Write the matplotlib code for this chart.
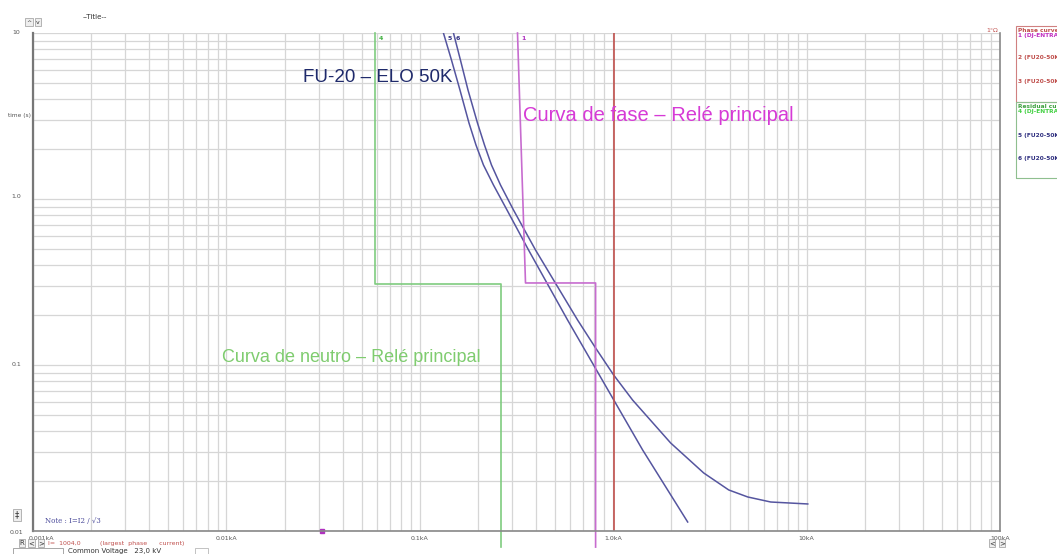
import matplotlib.pyplot as plt
from matplotlib.patches import Rectangle

# --- data (current in kA, time in s) ---
fuse_min_i = [0.1325, 0.1458, 0.1613, 0.1796, 0.1952, 0.2134, 0.2404, 0.2824,
              0.3649, 0.5808, 1.420, 2.427]
fuse_min_t = [10.0, 6.875, 4.536, 2.870, 2.115, 1.602, 1.214, 0.8584,
              0.4929, 0.1867, 0.03076, 0.01133]

fuse_max_i = [0.1493, 0.1622, 0.1775, 0.1987, 0.2160, 0.2348, 0.2614, 0.3051,
              0.3966, 0.6543, 0.8109, 1.005, 1.260, 1.982, 2.938, 3.957,
              4.963, 6.526, 10.14]
fuse_max_t = [10.0, 6.875, 4.536, 2.870, 2.115, 1.602, 1.214, 0.8584,
              0.4929, 0.1867, 0.1266, 0.0871, 0.0615, 0.0339, 0.02236, 0.01767,
              0.01603, 0.01495, 0.01455]

phase_i = [0.320, 0.352, 0.811, 0.811]
phase_t = [10.0, 0.312, 0.312, 0.008]

neutral_i = [0.0589, 0.0589, 0.264, 0.264]
neutral_t = [10.0, 0.307, 0.307, 0.008]

largest_current = 1.004  # kA
marker_i = 0.0313

x_ticks = [0.001, 0.01, 0.1, 1.0, 10, 100]
x_tick_labels = ['0.001kA', '0.01kA', '0.1kA', '1.0kA', '10kA', '100kA']
y_tick_px = [33, 197, 364, 532]
y_tick_labels = ['10', '1.0', '0.1', '0.01']

blue = '#55559f'
green = '#7fcc7f'
magenta = '#c76ccf'
red = '#c0504d'

W, H = 1057, 554


def fx(px):
    return px / W


def fy(py):
    return 1 - py / H


fig = plt.figure(figsize=(10.57, 5.54), dpi=100)
ax = fig.add_axes([33 / W, 1 - 531 / H, 967 / W, 498 / H])
ax.set_xscale('log')
ax.set_yscale('log')
ax.set_xlim(0.001, 100)
ax.set_ylim(0.01, 10)

ax.grid(True, which='both', color='#d6d6d6', lw=0.9)
ax.set_axisbelow(True)
ax.tick_params(which='both', length=0, labelbottom=False, labelleft=False)
ax.spines['top'].set_visible(False)
ax.spines['left'].set_color('#777777')
ax.spines['left'].set_linewidth(1.6)
ax.spines['bottom'].set_color('#888888')
ax.spines['bottom'].set_linewidth(1.2)
ax.spines['right'].set_color('#888888')
ax.spines['right'].set_linewidth(1.2)

# curves
ax.plot(fuse_min_i, fuse_min_t, color=blue, lw=1.1)
ax.plot(fuse_max_i, fuse_max_t, color=blue, lw=1.1)
ax.plot(phase_i, phase_t, color=magenta, lw=1.2, clip_on=False)
ax.plot(neutral_i, neutral_t, color=green, lw=1.2, clip_on=False)
ax.plot([largest_current, largest_current], [0.01, 10], color=red, lw=1.2)
ax.plot([marker_i], [0.01], marker='s', ms=3, color='#b030c0', clip_on=False)

# tick labels drawn as small texts like the original tool
for v, lab in zip(x_ticks, x_tick_labels):
    xx = v * 1.1 if v == 0.001 else v
    ax.text(xx, 0.0093, lab, fontsize=4.5, color='#555555', ha='center', va='top')
for py, lab in zip(y_tick_px, y_tick_labels):
    fig.text(fx(16), fy(py), lab, fontsize=4.5, color='#555555', ha='center', va='center')

# curve numbers at the top
ax.text(0.0612, 9.6, '4', fontsize=4.5, color='#40b040', fontweight='bold', va='top')
ax.text(0.139, 9.6, '5', fontsize=4.5, color='#303080', fontweight='bold', va='top')
ax.text(0.153, 9.6, '6', fontsize=4.5, color='#303080', fontweight='bold', va='top')
ax.text(0.335, 9.6, '1', fontsize=4.5, color='#b030c0', fontweight='bold', va='top')

# annotations
ax.text(0.0250, 5.36, 'FU-20 – ELO 50K', fontsize=13.5, color='#1f2a6b',
        family='Liberation Sans', va='center')
ax.text(0.343, 3.2, 'Curva de fase – Relé principal', fontsize=14.5, color='#d63ad6',
        family='Liberation Sans', va='center')
ax.text(0.0095, 0.1117, 'Curva de neutro – Relé principal', fontsize=13, color='#7fcc6f',
        family='Liberation Sans', va='center')
ax.text(0.00115, 0.0108, 'Note : I=I2 / √3', fontsize=5, color='#4a4a9a',
        family='DejaVu Serif', va='bottom')

# figure-level extras
fig.text(fx(95), fy(17), '--Title--', fontsize=5, color='#333333', ha='center', va='center')
fig.text(fx(19), fy(116), 'time (s)', fontsize=4.2, color='#555555', ha='center', va='center')
fig.text(fx(992), fy(30), '1°Ω', fontsize=4.5, color='#c0504d', ha='center', va='center')
for xx, s in [(29, '^'), (38, 'v')]:
    fig.text(fx(xx), fy(22), s, fontsize=4.5, color='#333333', ha='center', va='center',
             bbox=dict(boxstyle='square,pad=0.2', fc='#eeeeee', ec='#999999', lw=0.5))
fig.text(fx(17), fy(515), '‡', fontsize=6, color='#333333', ha='center', va='center',
         bbox=dict(boxstyle='square,pad=0.2', fc='#eeeeee', ec='#999999', lw=0.5))
for xx, s in [(22, 'R'), (31.5, '<'), (41, '>')]:
    fig.text(fx(xx), fy(543), s, fontsize=5, color='#333333', ha='center', va='center',
             bbox=dict(boxstyle='square,pad=0.08', fc='#eeeeee', ec='#999999', lw=0.5))
fig.text(fx(48), fy(543), 'I=  1004,0', fontsize=4.5, color='#c0504d', va='center')
fig.text(fx(100), fy(543), '(largest  phase      current)', fontsize=4.5, color='#c0504d',
         va='center')
fig.text(fx(68), fy(551), 'Common Voltage   23,0 kV', fontsize=5, color='#333333', va='center')
fig.add_artist(Rectangle((fx(13), fy(556)), 50 / W, 8 / H, transform=fig.transFigure,
                         fill=False, ec='#999999', lw=0.6))
fig.add_artist(Rectangle((fx(195), fy(554)), 13 / W, 6 / H, transform=fig.transFigure,
                         fill=False, ec='#aaaaaa', lw=0.5))
for xx, s in [(992, '<'), (1002, '>')]:
    fig.text(fx(xx), fy(543), s, fontsize=5, color='#333333', ha='center', va='center',
             bbox=dict(boxstyle='square,pad=0.08', fc='#eeeeee', ec='#999999', lw=0.5))

# legend boxes (cut off by the figure edge, like the screenshot)
fig.add_artist(Rectangle((fx(1016), fy(102)), 60 / W, 76 / H, transform=fig.transFigure,
                         fill=False, ec='#d08080', lw=0.8))
fig.add_artist(Rectangle((fx(1016), fy(178)), 60 / W, 76 / H, transform=fig.transFigure,
                         fill=False, ec='#8fbf8f', lw=0.8))
leg_rows = [
    (30, 'Phase curves', '#c0504d'),
    (36, '1 (DJ-ENTRADA', '#c030c0'),
    (58, '2 (FU20-50K)', '#c0504d'),
    (81, '3 (FU20-50K)', '#c0504d'),
    (106, 'Residual curves', '#40a040'),
    (112, '4 (DJ-ENTRADA', '#40d040'),
    (135, '5 (FU20-50K)', '#303080'),
    (158, '6 (FU20-50K)', '#303080'),
]
for yy, s, c in leg_rows:
    fig.text(fx(1018), fy(yy), s, fontsize=4.2, color=c, fontweight='bold', va='center')

fig.savefig('out.png', dpi=100)
